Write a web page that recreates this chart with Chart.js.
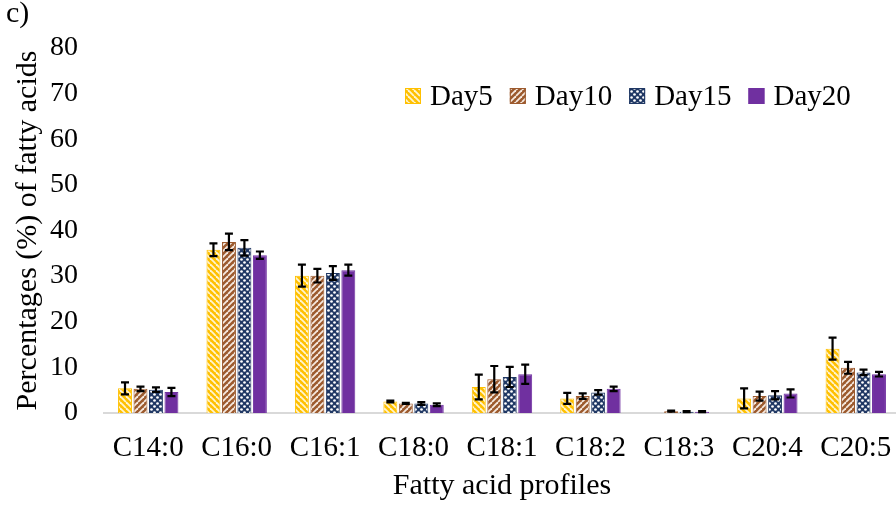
<!DOCTYPE html>
<html><head><meta charset="utf-8">
<script src="https://cdn.jsdelivr.net/npm/chart.js@4.4.1/dist/chart.umd.min.js"></script>
<style>html,body{margin:0;padding:0;background:#fff;overflow:hidden;}#wrap{position:relative;width:896px;height:506px;overflow:hidden;}</style>
</head><body><div id="wrap"><canvas id="c" width="900" height="506"></canvas></div>
<script>
const categories = ["C14:0","C16:0","C16:1","C18:0","C18:1","C18:2","C18:3","C20:4","C20:5"];
const seriesNames = ["Day5","Day10","Day15","Day20"];
const day5  = [5.4, 35.8, 30.1, 2.5, 5.7, 3.2, 0.0, 3.2, 14.1];
const day10 = [5.3, 37.5, 30.1, 2.1, 7.4, 3.7, 0.4, 3.7, 9.9];
const day15 = [5.1, 36.2, 30.7, 2.1, 7.9, 4.5, 0.3, 3.9, 8.9];
const day20 = [4.6, 34.6, 31.3, 1.8, 8.5, 5.3, 0.3, 4.3, 8.5];
const err5  = [1.3, 1.4, 2.4, 0.2, 2.7, 1.2, 0.0, 2.2, 2.4];
const err10 = [0.5, 1.8, 1.5, 0.1, 2.9, 0.6, 0.1, 1.0, 1.3];
const err15 = [0.5, 1.7, 1.5, 0.3, 2.2, 0.5, 0.1, 0.9, 0.6];
const err20 = [0.9, 0.8, 1.2, 0.3, 2.1, 0.5, 0.1, 0.9, 0.5];
const yTicks = [0,10,20,30,40,50,60,70,80];

const FONT = "'Liberation Serif', 'Times New Roman', serif";

function stripePattern(bg, fg, dir) {
  const s = 6, c = document.createElement('canvas'); c.width = s; c.height = s;
  const g = c.getContext('2d');
  g.fillStyle = bg; g.fillRect(0,0,s,s);
  g.strokeStyle = fg; g.lineWidth = 1.8;
  for (let k = -1; k <= 1; k++) {
    g.beginPath();
    if (dir === 'back') { g.moveTo(k*s, 0); g.lineTo(k*s + s, s); }
    else { g.moveTo(k*s, s); g.lineTo(k*s + s, 0); }
    g.stroke();
  }
  return g.createPattern(c, 'repeat');
}
function dotPattern(bg, fg) {
  const s = 6, c = document.createElement('canvas'); c.width = s; c.height = s;
  const g = c.getContext('2d');
  g.fillStyle = bg; g.fillRect(0,0,s,s);
  g.fillStyle = fg;
  [[1.5,1.5],[4.5,4.5]].forEach(([x,y]) => { g.beginPath(); g.arc(x,y,1.35,0,Math.PI*2); g.fill(); });
  return g.createPattern(c, 'repeat');
}
const pat5 = stripePattern('#FFC000', '#FFF4D0', 'back');
const pat10 = stripePattern('#9C5A2E', '#F6EAE0', 'fwd');
const pat15 = dotPattern('#203864', '#FFFFFF');
const borders = ['#FFC000', '#9C5A2E', '#203864', '#7030A0'];
const fills = [pat5, pat10, pat15, '#7030A0'];
const values = [day5, day10, day15, day20];
const errors = [err5, err10, err15, err20];

const datasets = seriesNames.map((n, i) => ({
  label: n, data: values[i], errorBars: errors[i],
  backgroundColor: fills[i], borderColor: borders[i], borderWidth: 1,
  categoryPercentage: 0.7, barPercentage: 0.9
}));

const errorBarPlugin = {
  id: 'errbars',
  afterDatasetsDraw(chart) {
    const ctx = chart.ctx, ys = chart.scales.y;
    ctx.save();
    ctx.strokeStyle = '#000'; ctx.lineWidth = 2.2;
    chart.data.datasets.forEach((ds, i) => {
      const meta = chart.getDatasetMeta(i);
      meta.data.forEach((bar, j) => {
        const v = ds.data[j], e = ds.errorBars[j];
        if (!e) return;
        const t = ys.getPixelForValue(v + e), b = ys.getPixelForValue(Math.max(v - e, 0));
        const x = bar.x, w = 4;
        ctx.beginPath();
        ctx.moveTo(x, t); ctx.lineTo(x, b);
        ctx.moveTo(x - w, t); ctx.lineTo(x + w, t);
        ctx.moveTo(x - w, b); ctx.lineTo(x + w, b);
        ctx.stroke();
      });
    });
    ctx.restore();
  }
};

const legendPlugin = {
  id: 'customLegend',
  afterDraw(chart) {
    const ctx = chart.ctx;
    ctx.save();
    ctx.font = "29px " + FONT;
    ctx.textBaseline = 'middle';
    ctx.fillStyle = '#000';
    let x = 405; const yMid = 96, sw = 16;
    chart.data.datasets.forEach((ds, i) => {
      ctx.fillStyle = ds.backgroundColor;
      ctx.fillRect(x, yMid - sw/2, sw, sw);
      ctx.strokeStyle = ds.borderColor; ctx.lineWidth = 1;
      ctx.strokeRect(x + 0.5, yMid - sw/2 + 0.5, sw - 1, sw - 1);
      x += sw + 9;
      ctx.fillStyle = '#000';
      ctx.fillText(ds.label, x, yMid + 1);
      x += ctx.measureText(ds.label).width + 17;
    });
    ctx.font = "30px " + FONT;
    ctx.textBaseline = 'alphabetic';
    ctx.fillText('c)', 6, 22);
    ctx.restore();
  }
};

new Chart(document.getElementById('c'), {
  type: 'bar',
  data: { labels: categories, datasets },
  options: {
    responsive: false, animation: false,
    layout: { padding: { top: 48, right: 0, left: 0, bottom: 0 } },
    plugins: { legend: { display: false }, tooltip: { enabled: false } },
    scales: {
      x: {
        grid: { display: false, drawTicks: false },
        border: { display: true, color: '#D9D9D9', width: 2 },
        ticks: { color: '#000', font: { family: FONT, size: 29 }, padding: 18, maxRotation: 0, autoSkip: false },
        title: { display: true, text: 'Fatty acid profiles', color: '#000', font: { family: FONT, size: 30 }, padding: { top: 0, bottom: 2 } },
        afterFit(s) { s.height = 93; s.paddingLeft = 0; s.paddingRight = 0; }
      },
      y: {
        min: 0, max: 80,
        grid: { display: false, drawTicks: false },
        border: { display: false },
        afterBuildTicks(s) { s.ticks = yTicks.map(v => ({ value: v })); },
        ticks: { color: '#000', font: { family: FONT, size: 28 }, padding: 26 },
        title: { display: true, text: 'Percentages (%) of fatty acids', color: '#000', font: { family: FONT, size: 30 }, padding: { top: 10, bottom: 0 } },
        afterFit(s) { s.width = 104; }
      }
    }
  },
  plugins: [errorBarPlugin, legendPlugin]
});
</script></body></html>
